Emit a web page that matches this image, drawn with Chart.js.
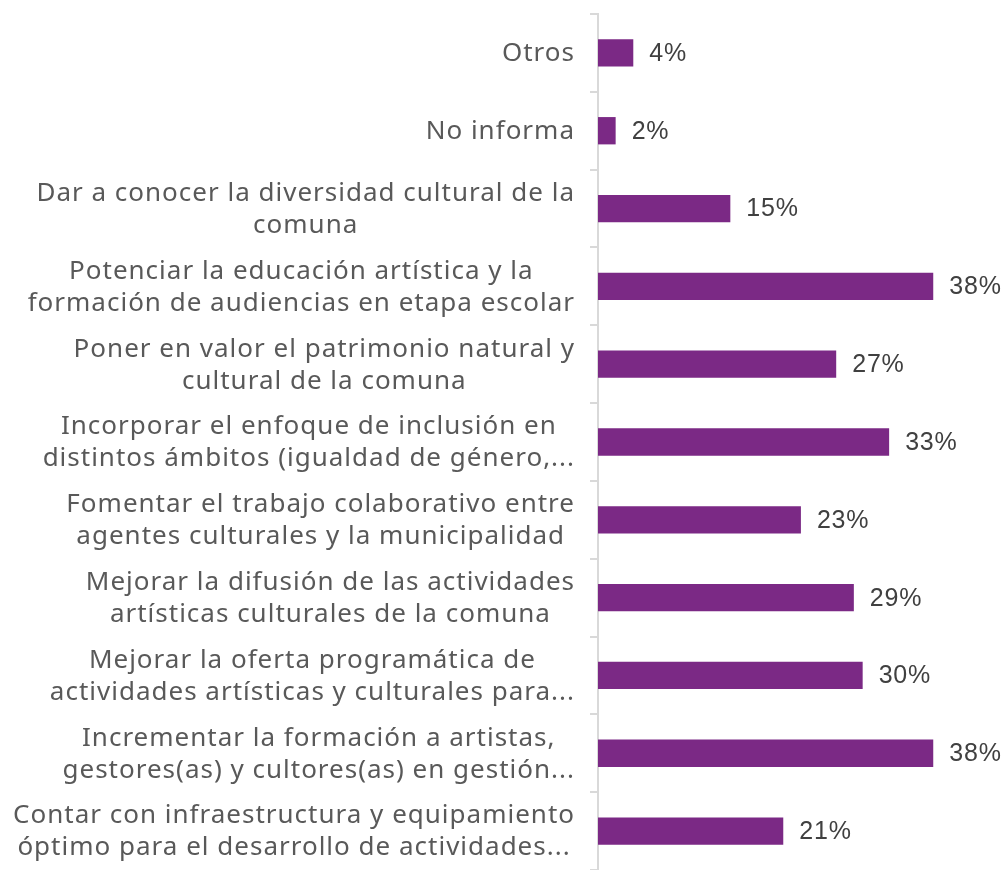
<!DOCTYPE html>
<html>
<head>
<meta charset="utf-8">
<script src="https://cdn.jsdelivr.net/npm/chart.js@4"></script>
<style>
  html, body { margin: 0; padding: 0; background: #fff; }
  #wrap { width: 1008px; height: 870px; }
</style>
</head>
<body>
<div id="wrap"><canvas id="c"></canvas></div>
<script>
const categories = [
    ['Otros'],
    ['No informa'],
    ['Dar a conocer la diversidad cultural de la', 'comuna'],
    ['Potenciar la educación artística y la', 'formación de audiencias en etapa escolar'],
    ['Poner en valor el patrimonio natural y', 'cultural de la comuna'],
    ['Incorporar el enfoque de inclusión en', 'distintos ámbitos (igualdad de género,...'],
    ['Fomentar el trabajo colaborativo entre', 'agentes culturales y la municipalidad'],
    ['Mejorar la difusión de las actividades', 'artísticas culturales de la comuna'],
    ['Mejorar la oferta programática de', 'actividades artísticas y culturales para...'],
    ['Incrementar la formación a artistas,', 'gestores(as) y cultores(as) en gestión...'],
    ['Contar con infraestructura y equipamiento', 'óptimo para el desarrollo de actividades...']
];
const values = [4, 2, 15, 38, 27, 33, 23, 29, 30, 38, 21];

const labelFont = '26px "Noto Sans"';
const valueFont = '25px "Liberation Sans"';

// category labels: block right-aligned, lines centred within the block
const categoryLabels = {
    id: 'categoryLabels',
    afterDraw(chart) {
        const ctx = chart.ctx;
        const y = chart.scales.y;
        ctx.save();
        ctx.font = labelFont;
        ctx.letterSpacing = '1px';
        ctx.fillStyle = '#595959';
        ctx.textAlign = 'center';
        ctx.textBaseline = 'middle';
        const right = chart.chartArea.left - 23;
        const lh = 32;
        categories.forEach((lines, i) => {
            const w = Math.max(...lines.map(l => ctx.measureText(l).width));
            const cx = right - w / 2;
            const cy = y.getPixelForTick(i) + 1;
            lines.forEach((l, j) => {
                ctx.fillText(l, cx, cy + (j - (lines.length - 1) / 2) * lh);
            });
        });
        ctx.restore();
    }
};

const valueLabels = {
    id: 'valueLabels',
    afterDatasetsDraw(chart) {
        const ctx = chart.ctx;
        ctx.save();
        ctx.font = valueFont;
        ctx.letterSpacing = '0.8px';
        ctx.fillStyle = '#404040';
        ctx.textAlign = 'left';
        ctx.textBaseline = 'middle';
        chart.getDatasetMeta(0).data.forEach((bar, i) => {
            ctx.fillText(values[i] + '%', bar.x + 16, bar.y + 1);
        });
        ctx.restore();
    }
};

new Chart(document.getElementById('c'), {
    type: 'bar',
    data: {
        labels: categories,
        datasets: [{
            data: values,
            backgroundColor: '#7b2985',
            barPercentage: 0.45,
            categoryPercentage: 0.78
        }]
    },
    options: {
        indexAxis: 'y',
        responsive: true,
        maintainAspectRatio: false,
        animation: false,
        layout: { padding: { top: 14, right: 13, bottom: 0, left: 0 } },
        plugins: {
            legend: { display: false },
            tooltip: { enabled: false },
            title: { display: false }
        },
        scales: {
            x: {
                display: false,
                min: 0,
                max: 45
            },
            y: {
                afterFit(scale) { scale.width = 598; },
                border: { display: true, color: '#d9d9d9', width: 2 },
                grid: {
                    drawOnChartArea: false,
                    drawTicks: true,
                    tickLength: 8,
                    color: '#d9d9d9',
                    lineWidth: 2
                },
                ticks: { display: false }
            }
        }
    },
    plugins: [categoryLabels, valueLabels]
});
</script>
</body>
</html>
